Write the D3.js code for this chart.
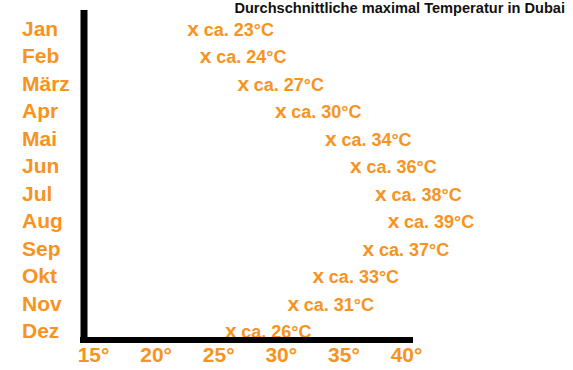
<!DOCTYPE html>
<meta charset="utf-8">
<style>
    body { margin: 0; background: #fff; }
    text { font-family: "Liberation Sans", Arial, sans-serif; font-weight: bold; }
    .month, .mark, .tick text { fill: #f7931e; }
</style>
<body>
<svg width="573" height="370"></svg>
<script src="https://cdnjs.cloudflare.com/ajax/libs/d3/7.8.5/d3.min.js"></script>
<script>

    var months = ["Jan", "Feb", "März", "Apr", "Mai", "Jun", "Jul", "Aug", "Sep", "Okt", "Nov", "Dez"];
    var temps = [23, 24, 27, 30, 34, 36, 38, 39, 37, 33, 31, 26];
    var xTicks = [15, 20, 25, 30, 35, 40];

    var svg = d3.select("svg");

    var x = d3.scaleLinear().domain([15, 40]).range([93, 406]);
    var y = d3.scalePoint().domain(months).range([36, 338]);

    // title
    svg.append("text")
        .attr("x", 565)
        .attr("y", 13)
        .attr("text-anchor", "end")
        .style("font-size", "14.6px")
        .style("fill", "#111")
        .text("Durchschnittliche maximal Temperatur in Dubai");

    // month labels
    svg.selectAll(".month")
        .data(months)
        .enter().append("text")
        .attr("class", "month")
        .attr("x", 22)
        .attr("y", function (d) { return y(d); })
        .style("font-size", "21px")
        .text(function (d) { return d; });

    // markers
    var data = months.map(function (m, i) { return {month: m, t: temps[i]}; });

    var marks = svg.selectAll(".mark")
        .data(data)
        .enter().append("g")
        .attr("class", "mark");

    marks.append("text")
        .attr("x", function (d) { return x(d.t); })
        .attr("y", function (d) { return y(d.month); })
        .attr("text-anchor", "middle")
        .style("font-size", "21px")
        .text("x");

    marks.append("text")
        .attr("x", function (d) { return x(d.t) + 10.5; })
        .attr("y", function (d) { return y(d.month); })
        .style("font-size", "18px")
        .text(function (d) { return "ca. " + d.t + "°C"; });

    // axes lines
    svg.append("line")
        .attr("x1", 84).attr("x2", 84)
        .attr("y1", 10).attr("y2", 343)
        .attr("stroke", "#000").attr("stroke-width", 7);

    svg.append("line")
        .attr("x1", 80).attr("x2", 413)
        .attr("y1", 340).attr("y2", 340)
        .attr("stroke", "#000").attr("stroke-width", 6);

    var xAxis = d3.axisBottom(x)
        .tickValues(xTicks)
        .tickSize(0)
        .tickFormat(function (d) { return d + "°"; });

    var gx = svg.append("g")
        .attr("transform", "translate(0,347)")
        .call(xAxis);
    gx.select(".domain").remove();
    gx.selectAll("text")
        .attr("dy", "0.71em")
        .attr("y", 0)
        .style("font-size", "21px")
        .style("font-family", "'Liberation Sans', Arial, sans-serif");

</script>
</body>
